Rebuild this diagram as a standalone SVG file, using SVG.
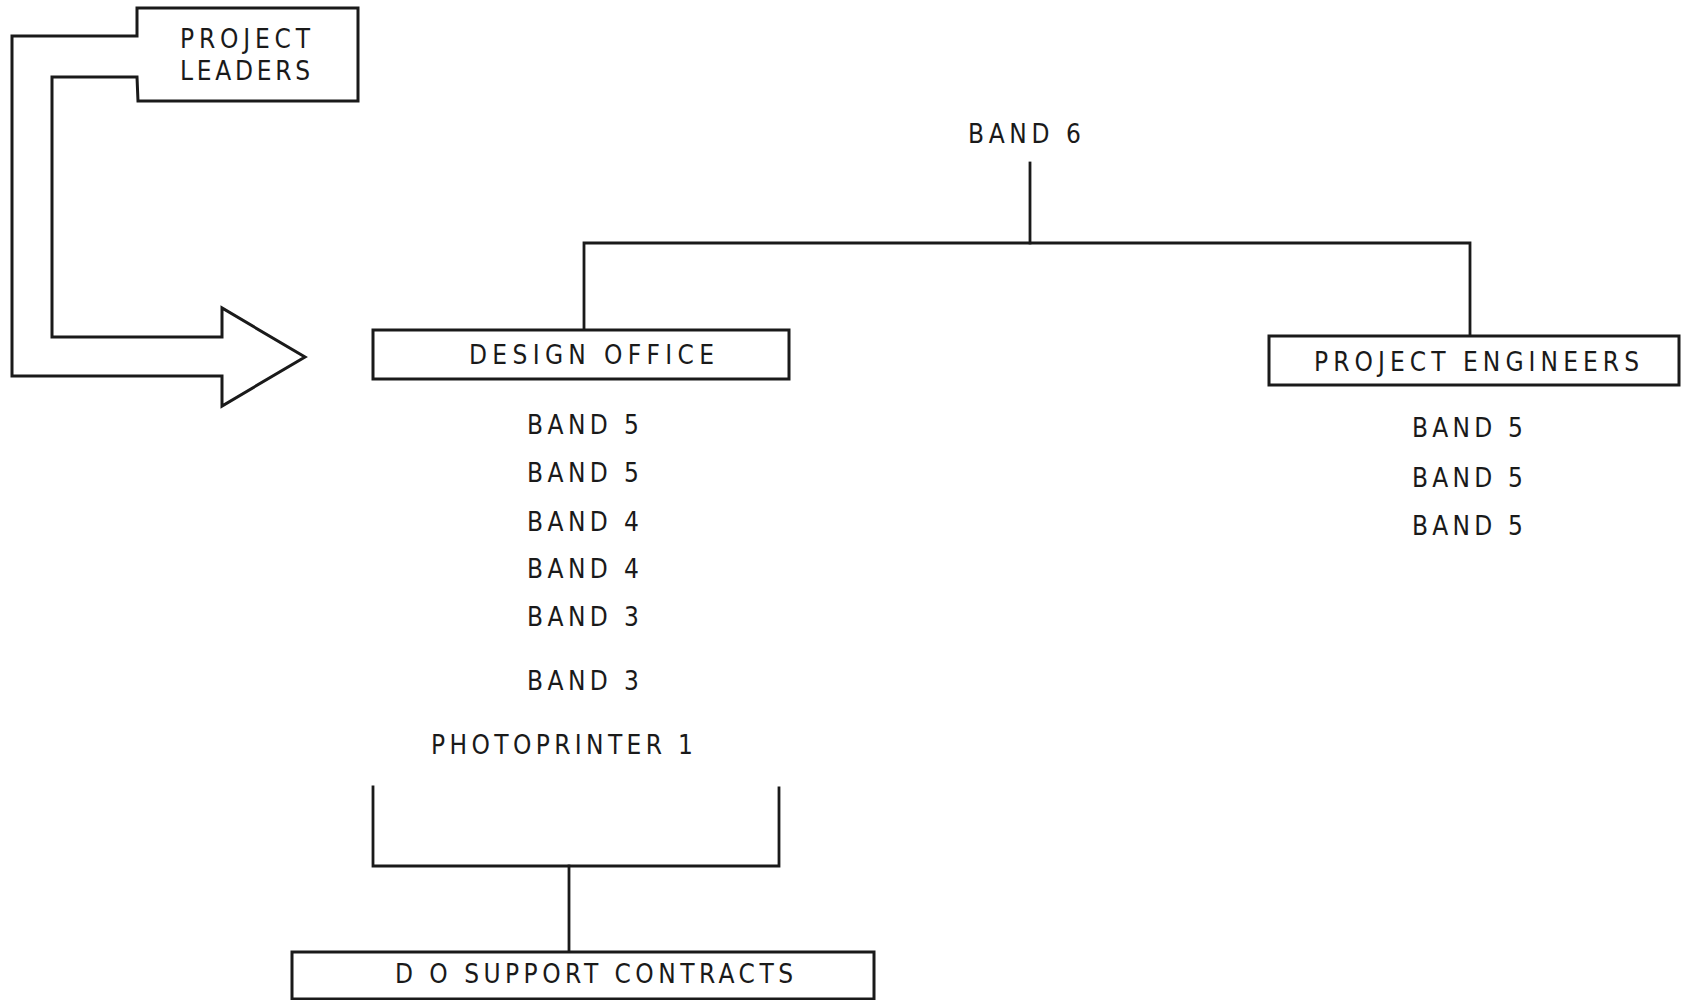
<svg xmlns="http://www.w3.org/2000/svg" width="1681" height="1000" viewBox="0 0 1681 1000">
<style>
.box{fill:#fff;stroke:#1a1a1a;stroke-width:3}
.ln{fill:none;stroke:#1a1a1a;stroke-width:2.8;stroke-linecap:square}
.t{font-family:"DejaVu Sans Condensed","DejaVu Sans","Liberation Sans",sans-serif;font-size:26px;fill:#1a1a1a}
</style>
<rect width="1681" height="1000" fill="#fff"/>
<g id="connectors">
<polyline class="ln" points="1030,163 1030,243"/>
<polyline class="ln" points="584,330 584,243 1470,243 1470,336"/>
<polyline class="ln" points="373,787 373,866 779,866 779,788"/>
<polyline class="ln" points="569,866 569,952"/>
</g>
<g id="project-leaders">
<path class="box" d="M137,36 L137,8 L358,8 L358,101 L138,101 L137,77 L52,77 L52,337 L222,337 L222,308 L305,357 L222,406 L222,376 L12,376 L12,36 Z"/>
<text class="t" x="180" y="48" textLength="130" lengthAdjust="spacing">PROJECT</text>
<text class="t" x="180" y="80" textLength="130" lengthAdjust="spacing">LEADERS</text>
</g>
<g id="band6">
<text class="t" x="968" y="143" textLength="113" lengthAdjust="spacing">BAND 6</text>
</g>
<g id="design-office">
<rect class="box" x="373" y="330" width="416" height="49"/>
<text class="t" x="469" y="364" textLength="245" lengthAdjust="spacing">DESIGN OFFICE</text>
<text class="t" x="527" y="434" textLength="112" lengthAdjust="spacing">BAND 5</text>
<text class="t" x="527" y="482" textLength="112" lengthAdjust="spacing">BAND 5</text>
<text class="t" x="527" y="531" textLength="112" lengthAdjust="spacing">BAND 4</text>
<text class="t" x="527" y="578" textLength="112" lengthAdjust="spacing">BAND 4</text>
<text class="t" x="527" y="626" textLength="112" lengthAdjust="spacing">BAND 3</text>
<text class="t" x="527" y="690" textLength="112" lengthAdjust="spacing">BAND 3</text>
<text class="t" x="431" y="754" textLength="262" lengthAdjust="spacing">PHOTOPRINTER 1</text>
</g>
<g id="project-engineers">
<rect class="box" x="1269" y="336" width="410" height="49"/>
<text class="t" x="1314" y="371" textLength="325" lengthAdjust="spacing">PROJECT ENGINEERS</text>
<text class="t" x="1412" y="437" textLength="111" lengthAdjust="spacing">BAND 5</text>
<text class="t" x="1412" y="487" textLength="111" lengthAdjust="spacing">BAND 5</text>
<text class="t" x="1412" y="535" textLength="111" lengthAdjust="spacing">BAND 5</text>
</g>
<g id="do-support-contracts">
<rect class="box" x="292" y="952" width="582" height="47"/>
<text class="t" x="395" y="983" textLength="398" lengthAdjust="spacing">D O SUPPORT CONTRACTS</text>
</g>
</svg>
